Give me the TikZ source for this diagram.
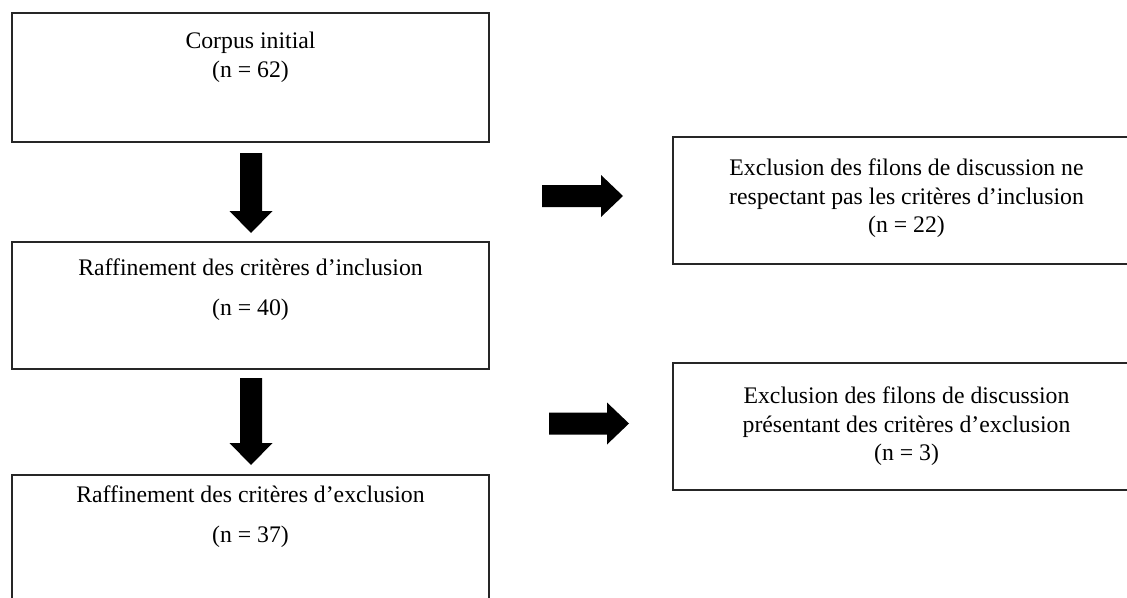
\documentclass[tikz,border=0pt]{standalone}
\usepackage{fontspec}
\setmainfont{Liberation Serif}
\begin{document}
\begin{tikzpicture}[x=1pt,y=-1pt,
  box/.style={draw=black!85, line width=1.3pt, rectangle, inner sep=0pt},
  txt/.style={anchor=base, inner sep=0pt, font=\fontsize{23.75}{29}\selectfont},
  downblk/.pic={\fill[black] (-11,0) -- (11,0) -- (11,#1-22) -- (21.5,#1-22) -- (0,#1) -- (-21.5,#1-22) -- (-11,#1-22) -- cycle;},
  rightblk/.pic={\fill[black] (0,-11) -- (#1-22,-11) -- (#1-22,-21) -- (#1,0) -- (#1-22,21) -- (#1-22,11) -- (0,11) -- cycle;}
]
\clip (0,0) rectangle (1127,597);
\fill[white] (0,0) rectangle (1127,597);
% left boxes
\node[box, minimum width=477pt, minimum height=129pt] (b1) at (250.5,77.5) {};
\node[box, minimum width=477pt, minimum height=127pt] (b2) at (250.5,305.5) {};
\node[box, minimum width=477pt, minimum height=140pt] (b3) at (250.5,545) {};
% right boxes
\node[box, minimum width=467pt, minimum height=127pt] (b4) at (906.5,200.5) {};
\node[box, minimum width=467pt, minimum height=127pt] (b5) at (906.5,426.5) {};
% texts
\node[txt] (t1a) at (250.5,48) {Corpus initial};
\node[txt] (t1b) at (250.5,77) {(n = 62)};
\node[txt] (t2a) at (250.5,275) {Raffinement des critères d’inclusion};
\node[txt] (t2b) at (250.5,315) {(n = 40)};
\node[txt] (t3a) at (250.5,502) {Raffinement des critères d’exclusion};
\node[txt] (t3b) at (250.5,542) {(n = 37)};
\node[txt] (t4a) at (906.5,175) {Exclusion des filons de discussion ne};
\node[txt] (t4b) at (906.5,204) {respectant pas les critères d’inclusion};
\node[txt] (t4c) at (906.5,232) {(n = 22)};
\node[txt] (t5a) at (906.5,403) {Exclusion des filons de discussion};
\node[txt] (t5b) at (906.5,432) {présentant des critères d’exclusion};
\node[txt] (t5c) at (906.5,460) {(n = 3)};
% block arrows
\coordinate (d1) at (251,153);
\coordinate (d2) at (251,378);
\coordinate (r1) at (542,196);
\coordinate (r2) at (549,423.5);
\pic at (d1) {downblk=80};
\pic at (d2) {downblk=87};
\pic at (r1) {rightblk=81};
\pic at (r2) {rightblk=80};
\end{tikzpicture}
\end{document}
